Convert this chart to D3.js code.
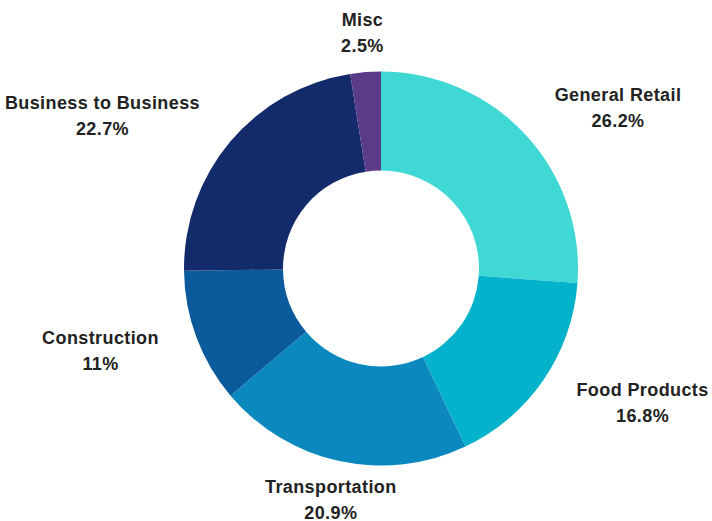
<!DOCTYPE html>
<html>
<head>
<meta charset="utf-8">
<script src="https://cdn.jsdelivr.net/npm/d3@7/dist/d3.min.js"></script>
<style>
  html, body { margin: 0; padding: 0; background: #ffffff; }
  svg { display: block; }
  .lbl { font-family: "Liberation Sans", Arial, sans-serif; font-weight: bold; font-size: 18px; letter-spacing: 0.4px; fill: #222222; }
</style>
</head>
<body>
<svg id="chart" width="712" height="521"></svg>
<script>
// Share of portfolio by sector (percent), clockwise from 12 o'clock
const categories = ["General Retail", "Food Products", "Transportation", "Construction", "Business to Business", "Misc"];
const shares = [26.2, 16.8, 20.9, 11, 22.7, 2.5];
const percentLabels = ["26.2%", "16.8%", "20.9%", "11%", "22.7%", "2.5%"];
const sliceColors = ["#40d8d5", "#05b2cc", "#0b88be", "#0b5a9c", "#132a6b", "#5b3c89"];

const width = 712, height = 521;
const cx = 381, cy = 268.5;
const outerR = 197, innerR = 98;
const labelGap = 40;

const svg = d3.select("#chart");
const g = svg.append("g").attr("transform", `translate(${cx},${cy})`);

const data = categories.map((c, i) => ({ name: c, value: shares[i], pct: percentLabels[i], color: sliceColors[i] }));

const pie = d3.pie().value(d => d.value).sort(null);
const arc = d3.arc().innerRadius(innerR).outerRadius(outerR);
const arcs = pie(data);

g.selectAll("path.slice")
  .data(arcs)
  .join("path")
  .attr("class", "slice")
  .attr("d", arc)
  .attr("fill", d => d.data.color);

// Two-line labels outside the ring; the block's near edge sits on the slice's mid-angle ray
g.selectAll("text.lbl")
  .data(arcs)
  .join("text")
  .attr("class", "lbl")
  .attr("text-anchor", "middle")
  .each(function(d) {
    const a = (d.startAngle + d.endAngle) / 2;
    const vx = Math.sin(a), vy = -Math.cos(a);
    const px = vx * (outerR + labelGap);
    const py = vy * (outerR + labelGap);
    const t = d3.select(this);
    const l1 = t.append("tspan").attr("y", py - 13).attr("dy", "0.35em").text(d.data.name);
    const l2 = t.append("tspan").attr("y", py + 13).attr("dy", "0.35em").text(d.data.pct);
    const w = Math.max(l1.node().getComputedTextLength(), l2.node().getComputedTextLength());
    const shift = Math.abs(vx) < 0.3 ? 0 : Math.sign(vx) * w / 2;
    l1.attr("x", px + shift);
    l2.attr("x", px + shift);
  });
</script>
</body>
</html>
